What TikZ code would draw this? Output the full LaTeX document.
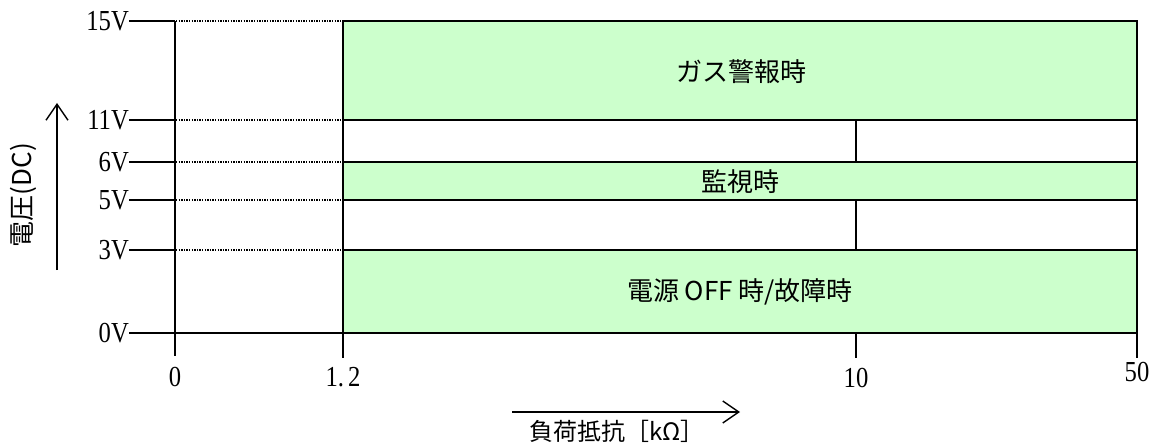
\documentclass[tikz,border=0pt]{standalone}
\usepackage{fontspec}
\setmainfont{Liberation Serif}
\newfontfamily\jp{Noto Sans CJK JP}
\usetikzlibrary{arrows.meta}
\definecolor{zone}{HTML}{CCFFCC}
\begin{document}
\begin{tikzpicture}[x=1pt,y=-1pt,
  tick/.style={line width=1.8pt},
  axisline/.style={line width=1.4pt},
  guide/.style={line width=1.3pt,dash pattern=on 1.3pt off 1.3pt},
  zonebox/.style={fill=zone,draw=black,line width=1.4pt},
  numlbl/.style={font=\fontsize{29}{32}\selectfont,inner sep=0pt,xscale=0.85},
  jplbl/.style={font=\jp\fontsize{26}{30}\selectfont,inner sep=0pt},
  bigarrow/.style={line width=1.4pt,-{Straight Barb[length=16pt,width=22pt,line width=1.4pt]}}]
\useasboundingbox (0,0) rectangle (1153,446);
% zones
\draw[zonebox] (343,21) rectangle (1137,120);
\draw[zonebox] (343,162) rectangle (1137,200);
\draw[zonebox] (343,250) rectangle (1137,333);
\draw[axisline] (343,120) -- (343,162);
\draw[axisline] (343,200) -- (343,250);
\draw[line width=1.8pt] (1137,21) -- (1137,358);
\draw[axisline] (343,333) -- (343,358);
% 10k lines
\draw[axisline] (856,120) -- (856,162);
\draw[axisline] (856,200) -- (856,250);
\draw[axisline] (856,333) -- (856,358);
% left axis
\draw[axisline] (175,21) -- (175,356);
% ticks & guides
\foreach \yy/\lab in {21/15V,120/11V,162/6V,200/5V,250/3V}{
  \draw[tick] (129,\yy) -- (175,\yy);
  \draw[guide] (176,\yy) -- (343,\yy);
  \node[numlbl,anchor=east] (y\lab) at (129,\yy) {\lab};
}
\draw[tick] (129,333) -- (343,333);
\node[numlbl,anchor=east] (y0V) at (129,333) {0V};
% x labels
\node[numlbl] (x0) at (175,377) {0};
\node[numlbl] (x12) at (343,377) {1.\,2};
\node[numlbl] (x10) at (856,378) {10};
\node[numlbl] (x50) at (1137,372) {50};
% zone labels
\node[jplbl] (gas) at (741,72) {ガス警報時};
\node[jplbl] (kanshi) at (740,182) {監視時};
\node[jplbl] (dengen) at (740,292) {電源 OFF 時/故障時};
% axis titles
\coordinate (ya1) at (57,270);
\coordinate (ya2) at (57,103);
\draw[bigarrow] (ya1) -- (ya2);
\node[jplbl,rotate=90] (ytitle) at (23,195) {電圧(DC)};
\coordinate (xa1) at (512,412);
\coordinate (xa2) at (740,412);
\draw[bigarrow] (xa1) -- (xa2);
\node[jplbl,font=\jp\fontsize{24}{28}\selectfont] (xtitle) at (617,431) {負荷抵抗［kΩ］};
\end{tikzpicture}
\end{document}
